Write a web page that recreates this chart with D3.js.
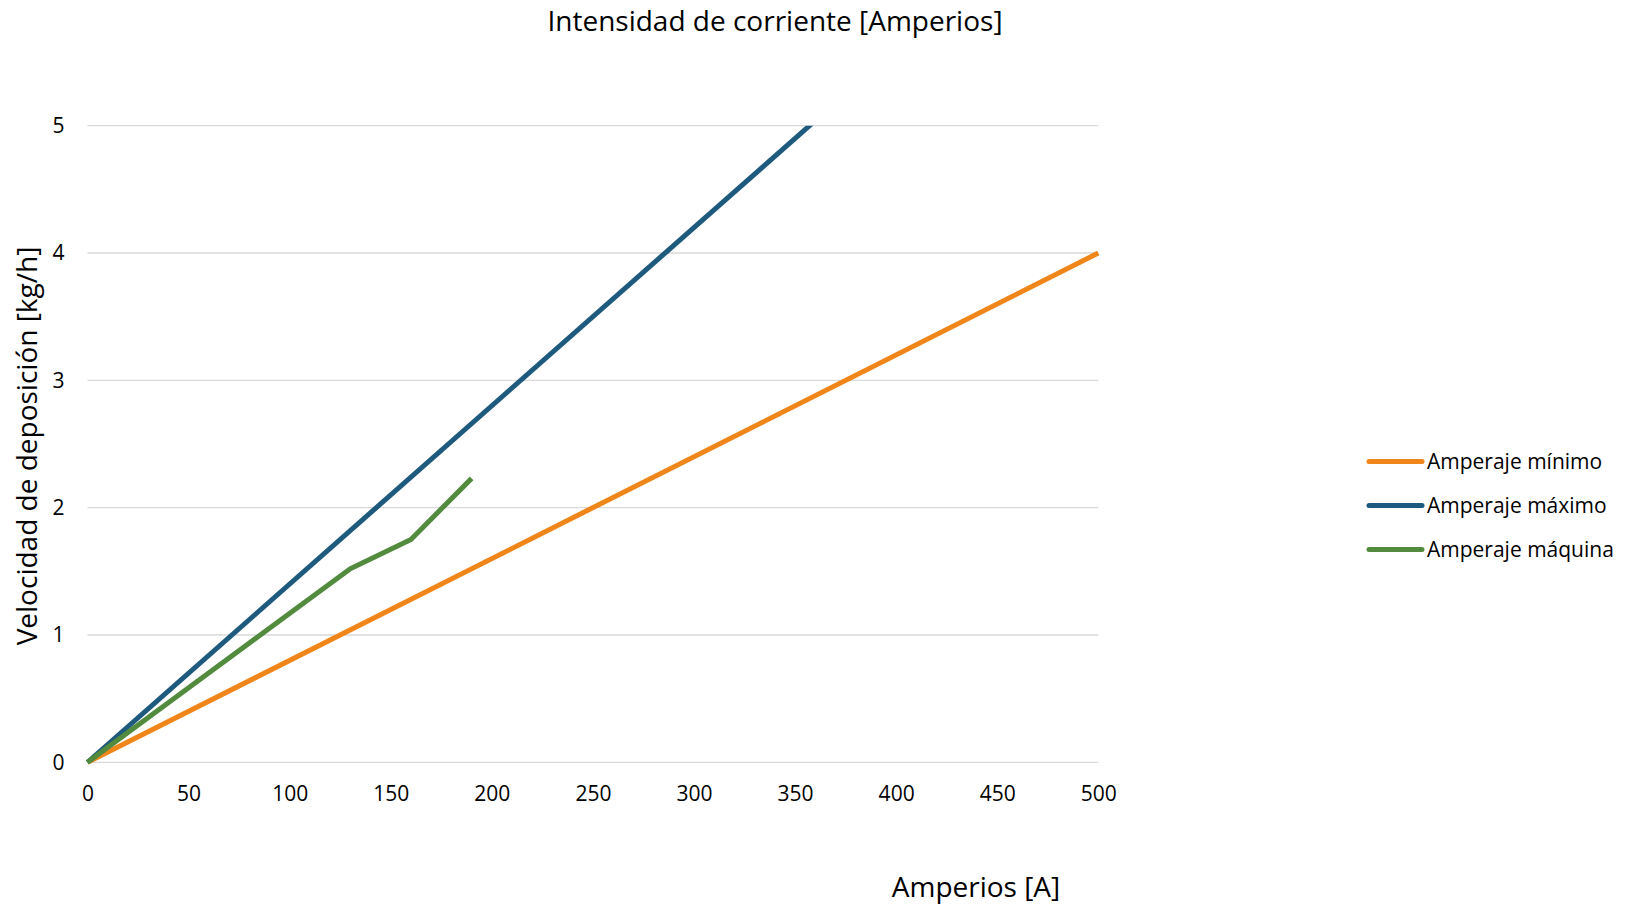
<!DOCTYPE html>
<html lang="es">
<head>
    <meta charset="UTF-8">
    <title>Intensidad de corriente</title>
    <script src="https://cdn.jsdelivr.net/npm/d3@7/dist/d3.min.js"></script>
    <style>
        body { margin: 0; background: #fff; }
        svg { display: block; font-family: "Open Sans", sans-serif; }
    </style>
</head>
<body>
<script>
    // datos
    let xTicks = [0, 50, 100, 150, 200, 250, 300, 350, 400, 450, 500];
    let yTicks = [0, 1, 2, 3, 4, 5];
    let seriesNames = ['Amperaje mínimo', 'Amperaje máximo', 'Amperaje máquina'];
    let minAmps = [0, 500];
    let minRate = [0, 4];
    let maxAmps = [0, 500];
    let maxRate = [0, 7];
    let machineAmps = [0, 130, 160, 190];
    let machineRate = [0, 1.52, 1.75, 2.23];
    let colors = ['#f0861a', '#1e5a7d', '#528b3e'];

    let width = 1625, height = 904;
    let plot = { left: 87.5, right: 1098.3, top: 125.7, bottom: 762.3 };

    let svg = d3.select('body').append('svg')
        .attr('width', width)
        .attr('height', height);

    let x = d3.scaleLinear().domain([0, 500]).range([plot.left, plot.right]);
    let y = d3.scaleLinear().domain([0, 5]).range([plot.bottom, plot.top]);

    // líneas de cuadrícula
    svg.append('g')
        .selectAll('line')
        .data(yTicks)
        .join('line')
        .attr('x1', plot.left)
        .attr('x2', plot.right)
        .attr('y1', d => y(d))
        .attr('y2', d => y(d))
        .attr('stroke', '#d9d9d9')
        .attr('stroke-width', 1.3);

    // eje y
    let yAxis = svg.append('g')
        .attr('transform', `translate(${plot.left - 23},0)`)
        .call(d3.axisLeft(y).tickValues(yTicks).tickFormat(d3.format('d')).tickSize(0).tickPadding(0));
    yAxis.select('.domain').remove();
    yAxis.selectAll('text').attr('font-size', 21).attr('fill', '#000')
        .attr('font-family', '"Open Sans", sans-serif');

    // eje x
    let xAxis = svg.append('g')
        .attr('transform', `translate(0,${plot.bottom + 24})`)
        .call(d3.axisBottom(x).tickValues(xTicks).tickSize(0).tickPadding(0));
    xAxis.select('.domain').remove();
    xAxis.selectAll('text').attr('font-size', 21).attr('fill', '#000')
        .attr('font-family', '"Open Sans", sans-serif');

    svg.append('clipPath').attr('id', 'clip')
        .append('rect')
        .attr('x', plot.left - 5).attr('y', plot.top)
        .attr('width', plot.right - plot.left + 10).attr('height', plot.bottom - plot.top + 5);

    let series = [
        { name: seriesNames[0], xs: minAmps, ys: minRate, color: colors[0] },
        { name: seriesNames[1], xs: maxAmps, ys: maxRate, color: colors[1] },
        { name: seriesNames[2], xs: machineAmps, ys: machineRate, color: colors[2] }
    ];

    let line = d3.line().x(d => x(d[0])).y(d => y(d[1]));

    svg.append('g').attr('clip-path', 'url(#clip)')
        .selectAll('path')
        .data(series)
        .join('path')
        .attr('fill', 'none')
        .attr('stroke', d => d.color)
        .attr('stroke-width', 5)
        .attr('stroke-linejoin', 'round')
        .attr('d', d => line(d.xs.map((v, i) => [v, d.ys[i]])));

    // títulos
    svg.append('text')
        .attr('x', 775).attr('y', 31)
        .attr('text-anchor', 'middle')
        .attr('font-size', 28)
        .text('Intensidad de corriente [Amperios]');

    svg.append('text')
        .attr('x', 976).attr('y', 897)
        .attr('text-anchor', 'middle')
        .attr('font-size', 28)
        .text('Amperios [A]');

    svg.append('text')
        .attr('transform', 'translate(37,446) rotate(-90)')
        .attr('text-anchor', 'middle')
        .attr('font-size', 28)
        .text('Velocidad de deposición [kg/h]');

    // leyenda
    let legend = svg.append('g')
        .selectAll('g')
        .data(series)
        .join('g')
        .attr('transform', (d, i) => `translate(1369,${461.5 + i * 44})`);
    legend.append('line')
        .attr('x1', 0).attr('x2', 53)
        .attr('stroke', d => d.color)
        .attr('stroke-width', 5)
        .attr('stroke-linecap', 'round');
    legend.append('text')
        .attr('x', 58).attr('y', 7.5)
        .attr('font-size', 21)
        .text(d => d.name);
</script>
</body>
</html>
